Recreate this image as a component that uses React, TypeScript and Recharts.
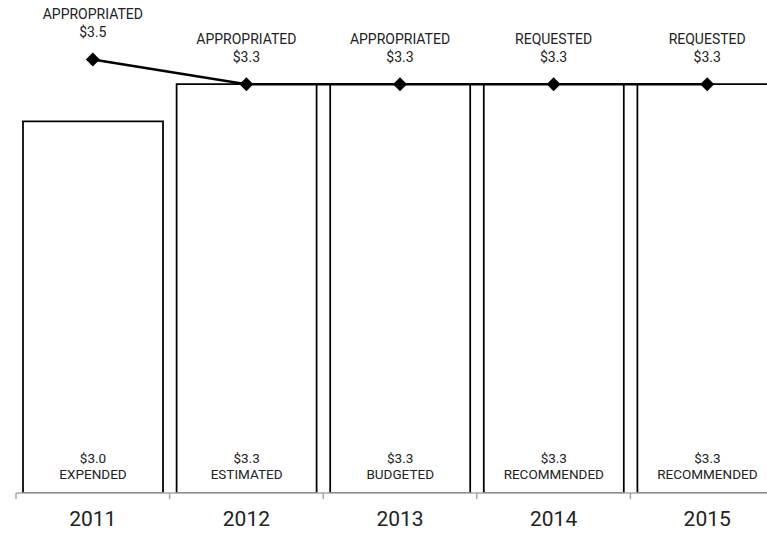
import { ComposedChart, Bar, Line, XAxis, YAxis, LabelList } from 'recharts'

const years = ['2011', '2012', '2013', '2014', '2015']
const spentValues = [3.0, 3.3, 3.3, 3.3, 3.3]
const spentStatus = ['EXPENDED', 'ESTIMATED', 'BUDGETED', 'RECOMMENDED', 'RECOMMENDED']
const fundedValues = [3.5, 3.3, 3.3, 3.3, 3.3]
const fundedStatus = ['APPROPRIATED', 'APPROPRIATED', 'APPROPRIATED', 'REQUESTED', 'REQUESTED']

const data = years.map((year, i) => ({
  year,
  spent: spentValues[i],
  funded: fundedValues[i],
}))

const CHART_W = 784
const CHART_H = 534
const LEFT = 16
const FONT = 'Roboto, "Liberation Sans", Arial, sans-serif'
const BAND = (CHART_W - LEFT) / years.length

const money = (v: number) => '$' + v.toFixed(1)

function YearTick({ x, y, payload }: any) {
  const edge = x - BAND / 2
  return (
    <g>
      <line x1={edge} x2={edge} y1={y} y2={y + 6} stroke="#a6a6a6" strokeWidth={1.5} />
      <text x={x} y={y + 33} textAnchor="middle" fontSize={21} fill="#222" fontFamily={FONT}>
        {payload.value}
      </text>
    </g>
  )
}

function Diamond({ cx, cy }: any) {
  if (cx == null || cy == null) return null
  const r = 7
  return (
    <polygon
      points={`${cx},${cy - r} ${cx + r},${cy} ${cx},${cy + r} ${cx - r},${cy}`}
      fill="#000"
    />
  )
}

function BarText({ x, y, width, height, index }: any) {
  const cx = x + width / 2
  const bottom = y + height
  return (
    <g fontFamily={FONT} fontSize={13.5} fill="#222" textAnchor="middle">
      <text x={cx} y={bottom - 30}>{money(spentValues[index])}</text>
      <text x={cx} y={bottom - 14}>{spentStatus[index]}</text>
    </g>
  )
}

function PointText({ x, y, index }: any) {
  return (
    <g fontFamily={FONT} fontSize={14} fill="#222" textAnchor="middle">
      <text x={x} y={y - 40}>{fundedStatus[index]}</text>
      <text x={x} y={y - 22}>{money(fundedValues[index])}</text>
    </g>
  )
}

export default function App() {
  return (
    <div style={{ position: 'absolute', left: 0, top: 0, width: 767, height: 534, overflow: 'hidden', background: '#fff' }}>
      <ComposedChart
        width={CHART_W}
        height={CHART_H}
        data={data}
        margin={{ top: 0, right: 0, bottom: 0, left: LEFT }}
        barCategoryGap={7}
      >
        <XAxis
          dataKey="year"
          height={41}
          tickLine={false}
          tickSize={0}
          tickMargin={0}
          axisLine={{ stroke: '#a6a6a6', strokeWidth: 1.5 }}
          tick={<YearTick />}
          interval={0}
        />
        <YAxis hide domain={[0, 3.98]} allowDataOverflow />
        <Bar dataKey="spent" fill="#fff" stroke="#000" strokeWidth={1.75} isAnimationActive={false}>
          <LabelList dataKey="spent" content={<BarText />} />
        </Bar>
        <Line
          dataKey="funded"
          stroke="#000"
          strokeWidth={2.5}
          dot={<Diamond />}
          activeDot={false}
          isAnimationActive={false}
        >
          <LabelList dataKey="funded" content={<PointText />} />
        </Line>
      </ComposedChart>
    </div>
  )
}
